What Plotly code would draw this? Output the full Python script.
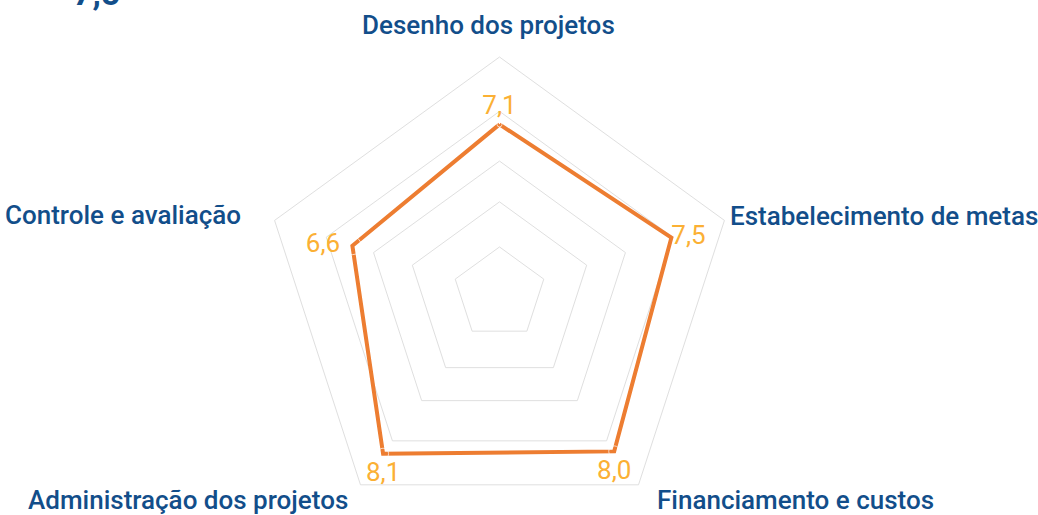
import plotly.graph_objects as go

# ---- data ----
categories = [
    "Desenho dos projetos",
    "Estabelecimento de metas",
    "Financiamento e custos",
    "Administração dos projetos",
    "Controle e avaliação",
]
values = [7.1, 7.5, 8.0, 8.1, 6.6]
value_labels = ["7,1", "7,5", "8,0", "8,1", "6,6"]
overall_score = "7,5"

# ---- styling / layout constants ----
W, H = 1038, 530          # window is 1038x515; the chart runs past the bottom edge like the reference
TOP = 57
PLOT_H = H - TOP
FONT = "Roboto, Liberation Sans, Arial, sans-serif"
BLUE = "#124E8A"
ORANGE = "#ED7D31"
GOLD = "#FBB034"
GRID = "#DFDFDF"
RADIAL_RANGE = [1.25, 9.43]
grid_values = [2.86, 4.42, 5.83, 7.55]
label_positions = ["top center", "middle right", "bottom center", "bottom center", "middle left"]
label_gaps = [5, 0, 11, 11, 18]
# category label placement (pixel position, anchors)
cat_label_place = [
    (488, 25, "center"),
    (728, 216, "left"),
    (655, 500, "left"),
    (350, 500, "right"),
    (243, 215, "right"),
]


def px_to_paper(px, py):
    return px / W, (H - py) / PLOT_H


fig = go.Figure()

fig.add_trace(go.Scatterpolar(
    r=values + values[:1],
    theta=categories + categories[:1],
    mode="lines",
    line=dict(color=ORANGE, width=4),
    hoverinfo="skip",
    showlegend=False,
))

fig.add_trace(go.Scatterpolar(
    r=values,
    theta=categories,
    mode="markers+text",
    marker=dict(size=label_gaps, color="rgba(0,0,0,0)"),
    text=value_labels,
    textposition=label_positions,
    textfont=dict(family=FONT, size=26, color=GOLD),
    cliponaxis=False,
    hoverinfo="skip",
    showlegend=False,
))

for cat, (px, py, anchor) in zip(categories, cat_label_place):
    x, y = px_to_paper(px, py)
    fig.add_annotation(
        text=cat, xref="paper", yref="paper", x=x, y=y,
        xanchor=anchor, yanchor="middle", showarrow=False,
        font=dict(family=FONT, size=26, color=BLUE, weight=500),
    )

tx, ty = px_to_paper(71, 15)
fig.add_annotation(
    text="<b>" + overall_score + "</b>",
    xref="paper", yref="paper", x=tx, y=ty,
    xanchor="left", yanchor="bottom", showarrow=False,
    font=dict(family=FONT, size=34, color=BLUE),
)

fig.update_layout(
    width=W, height=H,
    margin=dict(l=0, r=0, t=TOP, b=0),
    paper_bgcolor="white",
    plot_bgcolor="white",
    showlegend=False,
    polar=dict(
        domain=dict(x=[0, 999 / W], y=[0, 1]),
        bgcolor="white",
        gridshape="linear",
        radialaxis=dict(
            range=RADIAL_RANGE,
            tickvals=grid_values,
            showticklabels=False,
            ticks="",
            showline=False,
            gridcolor=GRID,
            gridwidth=1,
        ),
        angularaxis=dict(
            rotation=90,
            direction="clockwise",
            showline=True,
            linecolor=GRID,
            linewidth=1,
            showgrid=False,
            ticks="",
            showticklabels=False,
        ),
    ),
)

fig.write_html(
    "out.html",
    config={"displayModeBar": False},
    post_script="document.body.style.margin='0';document.body.style.overflow='hidden';",
)
